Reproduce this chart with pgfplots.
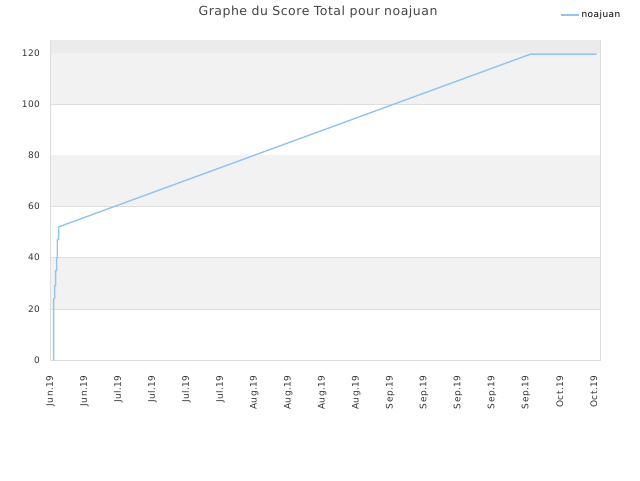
\documentclass[border=0pt]{standalone}
\usepackage{pgfplots}
\pgfplotsset{compat=1.18}
\usepackage{fontspec}
\setmainfont{DejaVu Sans}
\newfontfamily\tickfont{DejaVu Sans}[LetterSpace=5]
\newfontfamily\titlefont{DejaVu Sans}[LetterSpace=4]
\definecolor{lineblue}{HTML}{90C4F4}
\definecolor{bandgray}{HTML}{F2F2F2}
\definecolor{topgray}{HTML}{EBEBEB}
\definecolor{gridgray}{HTML}{DDDDDD}
\definecolor{txt}{HTML}{444444}
\definecolor{ticktxt}{HTML}{333333}

\pgfplotstableread{
x y
0.094 0
0.094 24
0.124 24
0.124 29
0.153 29
0.153 35
0.183 35
0.183 40
0.200 40
0.200 47
0.240 47
0.240 52
14.14 119.5
16.08 119.5
}\scoredata

\begin{document}
\begin{tikzpicture}
\useasboundingbox (0pt,0pt) rectangle (640pt,480pt);
\node[text=txt, font=\titlefont\fontsize{12.5}{14}\selectfont] at (318pt,468pt) {Graphe du Score Total pour noajuan};
\begin{axis}[
  at={(50.5pt,120pt)}, anchor=south west,
  scale only axis, width=549.5pt, height=320pt,
  xmin=0, xmax=16.18, ymin=0, ymax=125,
  axis line style={gridgray},
  xtick={0,...,16},
  xticklabels={Jun.19,Jun.19,Jul.19,Jul.19,Jul.19,Jul.19,Aug.19,Aug.19,Aug.19,Aug.19,Sep.19,Sep.19,Sep.19,Sep.19,Sep.19,Oct.19,Oct.19},
  ytick={0,20,...,120},
  xticklabel style={rotate=90, anchor=east, font=\tickfont\fontsize{9}{11}\selectfont, text=ticktxt},
  yticklabel style={font=\tickfont\fontsize{9}{11}\selectfont, text=ticktxt},
  xticklabel shift=12pt, yticklabel shift=7pt,
  /pgf/number format/assume math mode=true,
  major tick length=0pt,
  ymajorgrids, grid style={gridgray, line width=0.6pt},
  legend style={at={(0.927,1.078)}, anchor=west, draw=none, fill=none,
    font=\tickfont\fontsize{9}{11}\selectfont, text=black, inner sep=0pt},
  legend image code/.code={\draw[lineblue, line width=1.5pt] (0pt,0pt) -- (11pt,0pt); \path (0pt,0pt) -- (18pt,0pt);},
]
\fill[bandgray] (axis cs:0,20) rectangle (axis cs:16.18,40);
\fill[bandgray] (axis cs:0,60) rectangle (axis cs:16.18,80);
\fill[bandgray] (axis cs:0,100) rectangle (axis cs:16.18,120);
\fill[topgray] (axis cs:0,120) rectangle (axis cs:16.18,125);
\addplot[lineblue, line width=1.4pt, line join=round] table[x=x, y=y] {\scoredata};
\addlegendentry{noajuan}
\end{axis}
\end{tikzpicture}
\end{document}
